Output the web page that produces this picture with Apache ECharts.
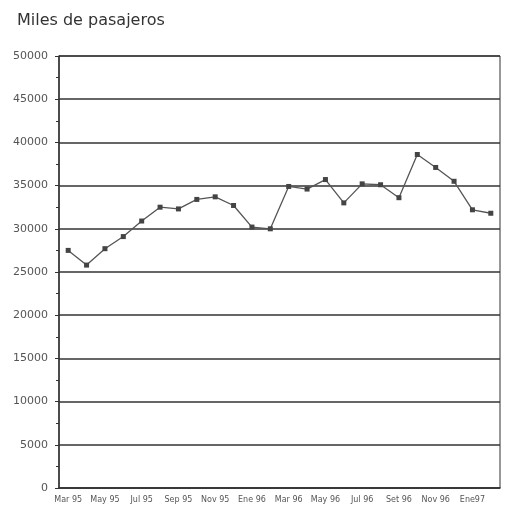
<!DOCTYPE html>
<html>
<head>
<meta charset="utf-8">
<script src="https://cdn.jsdelivr.net/npm/echarts@6/dist/echarts.min.js"></script>
<style>
  html, body { margin: 0; padding: 0; background: #fff; }
  #chart { width: 510px; height: 516px; }
</style>
</head>
<body>
<div id="chart"></div>
<script>
// meses (mar 95 - feb 97)
const months = ['Mar 95', 'Abr 95', 'May 95', 'Jun 95', 'Jul 95', 'Ago 95', 'Sep 95', 'Oct 95',
  'Nov 95', 'Dic 95', 'Ene 96', 'Feb 96', 'Mar 96', 'Abr 96', 'May 96', 'Jun 96',
  'Jul 96', 'Ago 96', 'Set 96', 'Oct 96', 'Nov 96', 'Dic 96', 'Ene97', 'Feb 97']
// miles de pasajeros
const passengers = [27500, 25800, 27700, 29100, 30900, 32500, 32300, 33400,
  33700, 32700, 30200, 30000, 34900, 34600, 35700, 33000,
  35200, 35100, 33600, 38600, 37100, 35500, 32200, 31800]
const yMin = 0
const yMax = 50000
const yStep = 5000

const chart = echarts.init(document.getElementById('chart'))
const option = {
  backgroundColor: '#fff',
  animation: false,
  title: {
    text: 'Miles de pasajeros',
    left: 12,
    top: 8,
    textStyle: {
      fontFamily: 'DejaVu Sans',
      fontSize: 16,
      fontWeight: 'normal',
      color: '#333'
    }
  },
  grid: {
    left: 59,
    right: 10,
    top: 56,
    bottom: 28,
    show: true,
    borderColor: '#333',
    borderWidth: 1
  },
  xAxis: {
    type: 'category',
    data: months,
    boundaryGap: true,
    axisLine: { lineStyle: { color: '#333', width: 1.5 } },
    axisTick: { alignWithLabel: true, interval: 0, length: 4, lineStyle: { color: '#333' } },
    axisLabel: {
      interval: 1,
      fontSize: 8,
      color: '#555',
      margin: 8,
      fontFamily: 'DejaVu Sans'
    },
    splitLine: { show: false }
  },
  yAxis: {
    type: 'value',
    min: yMin,
    max: yMax,
    interval: yStep,
    axisLine: { show: true, lineStyle: { color: '#333', width: 1.5 } },
    axisTick: { show: true, length: 4, lineStyle: { color: '#333' } },
    minorTick: { show: true, splitNumber: 2, length: 3, lineStyle: { color: '#333' } },
    axisLabel: {
      fontSize: 11,
      color: '#555',
      margin: 11,
      fontFamily: 'DejaVu Sans',
      formatter: function (v) { return String(v) }
    },
    splitLine: { show: true, lineStyle: { color: '#333', width: 1.5 } }
  },
  series: [{
    type: 'line',
    data: passengers,
    symbol: 'rect',
    symbolSize: 5,
    itemStyle: { color: '#444' },
    lineStyle: { color: '#555', width: 1.3 }
  }]
}
chart.setOption(option)
window.addEventListener('resize', function () {
  chart.resize()
})
</script>
</body>
</html>
